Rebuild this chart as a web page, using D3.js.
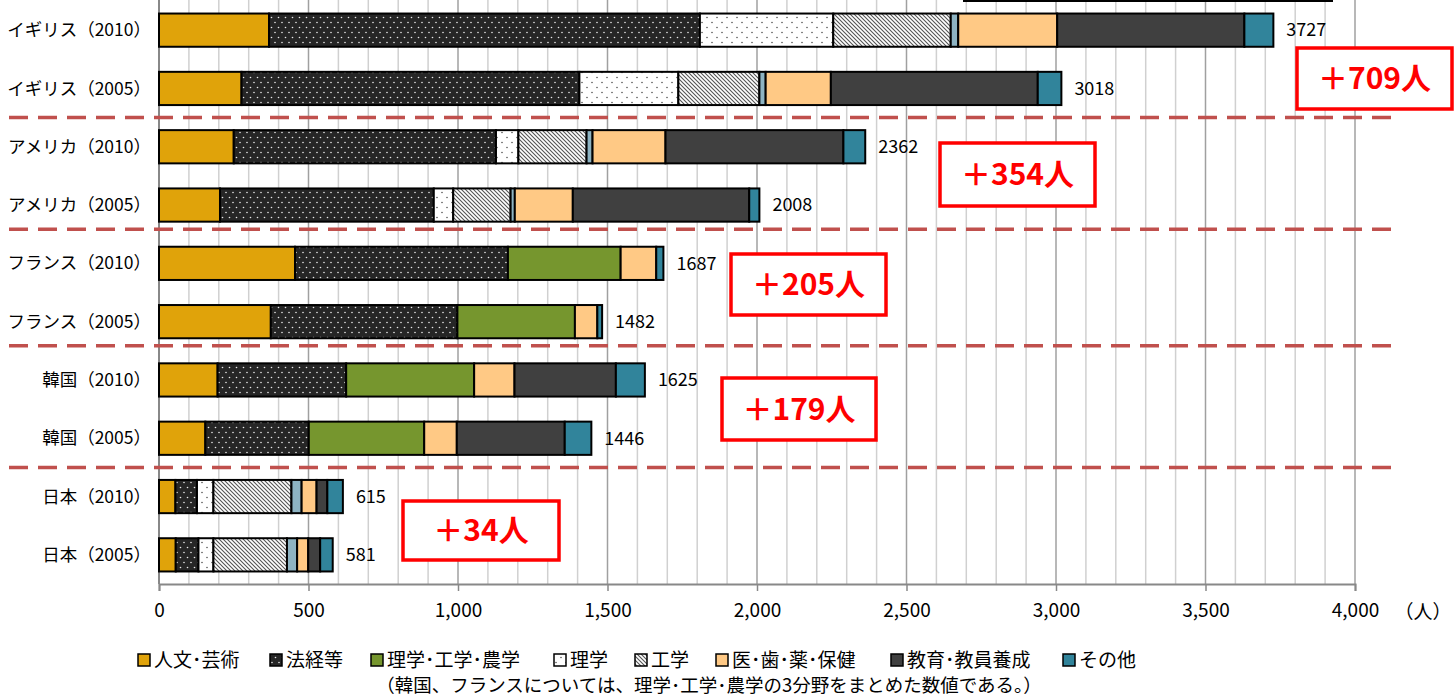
<!DOCTYPE html>
<html>
<head>
<meta charset="utf-8">
<script src="https://cdn.jsdelivr.net/npm/d3@7"></script>
<style>
  body { margin: 0; background: #fff; }
  text { font-family: "Noto Sans CJK JP", "Noto Sans", sans-serif; }
</style>
</head>
<body>
<script>
var width = 1454, height = 697;

// categories, top to bottom
var categories = ["イギリス（2010）", "イギリス（2005）", "アメリカ（2010）", "アメリカ（2005）",
  "フランス（2010）", "フランス（2005）", "韓国（2010）", "韓国（2005）", "日本（2010）", "日本（2005）"];

// series values (人)
var jinbun   = [368, 276, 250, 204, 455, 374, 196, 155, 55, 56];
var hokei    = [1441, 1130, 877, 715, 712, 624, 430, 346, 72, 76];
var rikonou  = [0, 0, 0, 0, 377, 393, 428, 386, 0, 0];
var rigaku   = [446, 331, 75, 65, 0, 0, 0, 0, 55, 50];
var kougaku  = [393, 271, 228, 192, 0, 0, 0, 0, 261, 246];
var nougaku  = [25, 21, 20, 14, 0, 0, 0, 0, 34, 34];
var iryou    = [331, 218, 244, 194, 119, 75, 135, 109, 50, 37];
var kyouiku  = [626, 692, 595, 590, 0, 0, 339, 361, 36, 40];
var sonota   = [97, 79, 73, 34, 24, 16, 97, 89, 52, 42];

var xTicks = [0, 500, 1000, 1500, 2000, 2500, 3000, 3500, 4000];

var legendLabels = ["人文･芸術", "法経等", "理学･工学･農学", "理学", "工学", "医･歯･薬･保健", "教育･教員養成", "その他"];
var note = "（韓国、フランスについては、理学･工学･農学の3分野をまとめた数値である。）";

// increase labels between groups
var diffs = ["＋709人", "＋354人", "＋205人", "＋179人", "＋34人"];

var keys = ["jinbun", "hokei", "rikonou", "rigaku", "kougaku", "nougaku", "iryou", "kyouiku", "sonota"];
var series = {jinbun: jinbun, hokei: hokei, rikonou: rikonou, rigaku: rigaku, kougaku: kougaku,
  nougaku: nougaku, iryou: iryou, kyouiku: kyouiku, sonota: sonota};

var table = categories.map(function(c, i) {
  var row = {cat: c};
  keys.forEach(function(k) { row[k] = series[k][i]; });
  return row;
});

var fills = {
  jinbun: "#E0A30A", hokei: "url(#dotsDark)", rikonou: "#76962E", rigaku: "url(#dotsLight)",
  kougaku: "url(#hatch)", nougaku: "#8DB3C2", iryou: "#FFC985", kyouiku: "#404040", sonota: "#31849B"
};
var legendKeys = ["jinbun", "hokei", "rikonou", "rigaku", "kougaku", "iryou", "kyouiku", "sonota"];

var svg = d3.select("body").append("svg").attr("width", width).attr("height", height);

var defs = svg.append("defs");
var p1 = defs.append("pattern").attr("id", "dotsDark").attr("patternUnits", "userSpaceOnUse")
  .attr("width", 7).attr("height", 10);
p1.append("rect").attr("width", 7).attr("height", 10).attr("fill", "#262626");
p1.append("circle").attr("cx", 2).attr("cy", 2.5).attr("r", 0.8).attr("fill", "#e8e8e8");
p1.append("circle").attr("cx", 5.5).attr("cy", 7.5).attr("r", 0.8).attr("fill", "#e8e8e8");

var p2 = defs.append("pattern").attr("id", "dotsLight").attr("patternUnits", "userSpaceOnUse")
  .attr("width", 10).attr("height", 10);
p2.append("rect").attr("width", 10).attr("height", 10).attr("fill", "#fff");
p2.append("circle").attr("cx", 2).attr("cy", 2.5).attr("r", 0.8).attr("fill", "#555");
p2.append("circle").attr("cx", 7).attr("cy", 7.5).attr("r", 0.8).attr("fill", "#555");

var p3 = defs.append("pattern").attr("id", "hatch").attr("patternUnits", "userSpaceOnUse")
  .attr("width", 4).attr("height", 4);
p3.append("rect").attr("width", 4).attr("height", 4).attr("fill", "#fff");
p3.append("path").attr("d", "M-1,-1 L5,5 M-1,3 L1,5 M3,-1 L5,1").attr("stroke", "#555").attr("stroke-width", 1.1);

var x = d3.scaleLinear().domain([0, 4000]).range([159, 1355]);
var y = d3.scaleBand().domain(categories).range([1, 584]).paddingInner(0.43).paddingOuter(0.215);

// gridlines
var grid = d3.range(100, 4001, 100);
svg.append("g").selectAll("line").data(grid).join("line")
  .attr("x1", function(d) { return x(d); }).attr("x2", function(d) { return x(d); })
  .attr("y1", 0).attr("y2", 584)
  .attr("stroke", function(d) { return d % 500 === 0 ? "#a0a0a0" : "#d0d0d0"; })
  .attr("stroke-width", 1.5);

// stray top line
svg.append("line").attr("x1", 963).attr("x2", 1333).attr("y1", 1).attr("y2", 1)
  .attr("stroke", "#000").attr("stroke-width", 2);

// axes
var xAxis = svg.append("g").attr("transform", "translate(0,584)")
  .call(d3.axisBottom(x).tickValues(xTicks).tickSize(7).tickPadding(13).tickFormat(d3.format(",")));
xAxis.select(".domain").attr("stroke", "#888").attr("stroke-width", 2);
xAxis.selectAll(".tick line").attr("stroke", "#888").attr("stroke-width", 1.5);
xAxis.selectAll(".tick text").attr("font-size", 19).attr("fill", "#000")
  .style("font-family", "'Noto Sans CJK JP'");

svg.append("line").attr("x1", 159).attr("x2", 159).attr("y1", 0).attr("y2", 584)
  .attr("stroke", "#888").attr("stroke-width", 2);

svg.append("text").attr("x", 1423).attr("y", 612).attr("dy", "0.35em").attr("text-anchor", "middle")
  .attr("font-size", 19).attr("fill", "#000").text("（人）");

// category labels
svg.append("g").selectAll("text").data(categories).join("text")
  .attr("x", 151).attr("y", function(d) { return y(d) + y.bandwidth() / 2; })
  .attr("dy", "0.35em").attr("text-anchor", "end").attr("font-size", 17.5).attr("fill", "#000")
  .text(function(d) { return d; });

// bars
var stack = d3.stack().keys(keys)(table);
svg.append("g").selectAll("g").data(stack).join("g")
  .attr("fill", function(s) { return fills[s.key]; })
  .selectAll("rect").data(function(s) { return s.filter(function(d) { return d[1] > d[0]; }); }).join("rect")
  .attr("x", function(d) { return x(d[0]); })
  .attr("y", function(d) { return y(d.data.cat); })
  .attr("width", function(d) { return x(d[1]) - x(d[0]); })
  .attr("height", y.bandwidth())
  .attr("stroke", "#000").attr("stroke-width", 2);

// totals
svg.append("g").selectAll("text").data(table).join("text")
  .attr("x", function(d) { return x(d3.sum(keys, function(k) { return d[k]; })) + 13; })
  .attr("y", function(d) { return y(d.cat) + y.bandwidth() / 2; })
  .attr("dy", "0.35em").attr("font-size", 18).attr("fill", "#000")
  .text(function(d) { return d3.sum(keys, function(k) { return d[k]; }); });

// dashed separators between countries
var seps = [2, 4, 6, 8];
var sepShift = [0, -5, -5, 0];
svg.append("g").selectAll("line").data(seps).join("line")
  .attr("x1", 9).attr("x2", 1400)
  .attr("y1", function(d, i) { return y(categories[d]) - (y.step() - y.bandwidth()) / 2 + sepShift[i]; })
  .attr("y2", function(d, i) { return y(categories[d]) - (y.step() - y.bandwidth()) / 2 + sepShift[i]; })
  .attr("stroke", "#C0504D").attr("stroke-width", 3.5).attr("stroke-dasharray", "19,10");

// increase annotations
var boxes = [[1297, 48, 155, 61], [940, 143, 155, 63], [731, 254, 155, 61], [722, 378, 154, 62], [403, 501, 156, 59]];
var ann = svg.append("g").selectAll("g").data(diffs).join("g")
  .attr("transform", function(d, i) { return "translate(" + boxes[i][0] + "," + boxes[i][1] + ")"; });
ann.append("rect")
  .attr("width", function(d, i) { return boxes[i][2]; })
  .attr("height", function(d, i) { return boxes[i][3]; })
  .attr("fill", "#fff").attr("stroke", "#FF0000").attr("stroke-width", 3.5);
ann.append("text")
  .attr("x", function(d, i) { return boxes[i][2] / 2; })
  .attr("y", function(d, i) { return boxes[i][3] / 2; })
  .attr("dy", "0.36em").attr("text-anchor", "middle")
  .attr("font-size", 30).attr("font-weight", "bold").attr("fill", "#FF0000")
  .text(function(d) { return d; });

// legend
var legendX = [138, 270, 371, 554, 635, 716, 891, 1063];
var lg = svg.append("g").selectAll("g").data(legendKeys).join("g")
  .attr("transform", function(d, i) { return "translate(" + legendX[i] + ",660)"; });
lg.append("rect").attr("x", 0).attr("y", -6).attr("width", 12).attr("height", 12)
  .attr("fill", function(d) { return fills[d]; }).attr("stroke", "#000").attr("stroke-width", 1.5);
lg.append("text").attr("x", 16).attr("dy", "0.35em").attr("font-size", 19).attr("fill", "#000")
  .text(function(d, i) { return legendLabels[i]; });

svg.append("text").attr("x", 709).attr("y", 686).attr("dy", "0.35em").attr("text-anchor", "middle")
  .attr("font-size", 18.5).attr("fill", "#000").text(note);
</script>
</body>
</html>
